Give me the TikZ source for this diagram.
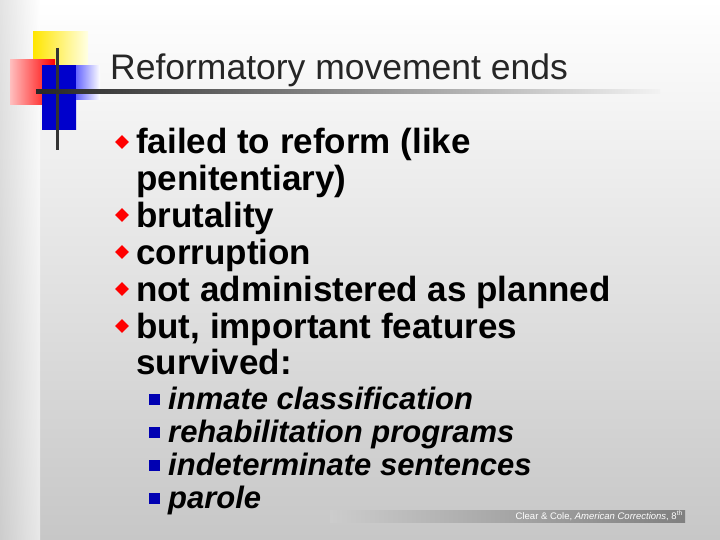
\documentclass[tikz,border=0pt]{standalone}
\usepackage{fontspec}
\setmainfont{Liberation Sans}
\usetikzlibrary{shapes.geometric}
\begin{document}
\begin{tikzpicture}[x=1pt,y=-1pt,
  bul/.style={anchor=base west,inner sep=0pt,font=\fontsize{35}{35}\selectfont\bfseries},
  sub/.style={anchor=base west,inner sep=0pt,font=\fontsize{31}{31}\selectfont\bfseries\itshape},
  dia/.style={fill=red,diamond,inner sep=0pt,minimum size=14pt},
  sq/.style={fill=blue!70!black,inner sep=0pt,minimum size=11pt}]
\useasboundingbox (0,0) rectangle (720,540);
\shade[top color=white,bottom color=black!22] (0,0) rectangle (720,540);
\shade[left color=black!18,right color=white,opacity=0.6] (0,0) rectangle (40,540);
% logo
\shade[left color=yellow!80!orange,right color=yellow!10] (33,32) rectangle (88,75);
\shade[left color=red!25,right color=red] (10,60) rectangle (55,105);
\shade[left color=blue!80!black,right color=blue!80!black] (42,66) rectangle (76,130);
\shade[left color=blue!60,right color=white] (76,66) rectangle (100,100);
\draw[line width=3pt,black!80] (57,48) -- (57,150);
\shade[left color=black!85,right color=black!5] (36,90) rectangle (660,94);
\node[anchor=base west,inner sep=0pt,font=\fontsize{35.5}{35}\selectfont,black!85] (t) at (110,80) {Reformatory movement ends};
\foreach \y/\t [count=\i] in {154/failed to reform (like,227/brutality,264/corruption,301/not administered as planned,338/{but, important features}}{
  \node[dia] (d\i) at (122,\y-12) {};
  \node[bul] (b\i) at (136,\y) {\t};
}
\node[bul] (b1b) at (136,191) {penitentiary)};
\node[bul] (b5b) at (136,374) {survived:};
\foreach \y/\t [count=\i] in {409/inmate classification,442/rehabilitation programs,475/indeterminate sentences,508/parole}{
  \node[sq] (s\i) at (154,\y-10) {};
  \node[sub] (u\i) at (168,\y) {\t};
}
\shade[left color=black!20,right color=black!50] (330,510) rectangle (685,522);
\node[anchor=base east,inner sep=0pt,font=\fontsize{9.5}{9}\selectfont,white] (c) at (683,519.5) {Clear \& Cole, \textit{American Corrections}, 8\textsuperscript{th}};
\end{tikzpicture}
\end{document}
